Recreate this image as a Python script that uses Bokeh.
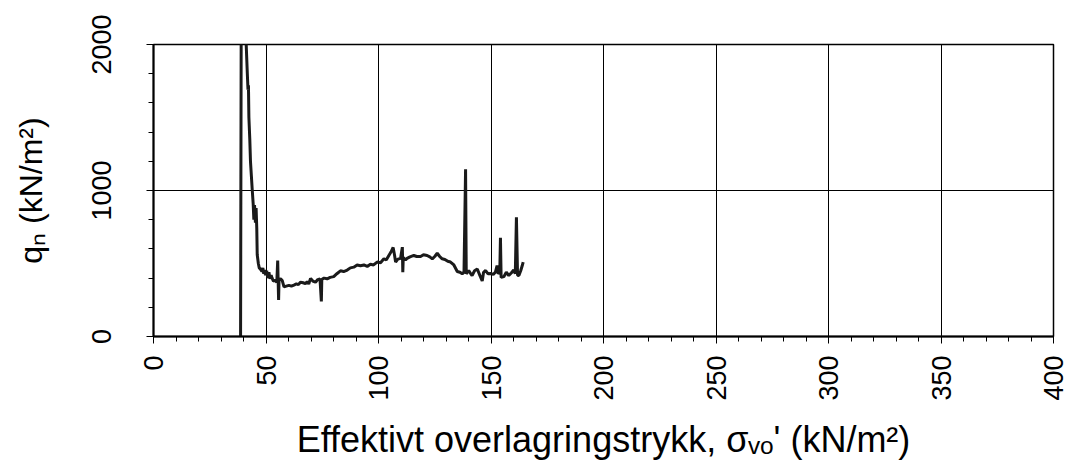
import math
from bokeh.plotting import figure
from bokeh.models import Range1d, FixedTicker
from bokeh.embed import file_html
from bokeh.resources import INLINE

# effective overburden stress (kN/m2) and net cone resistance q_n (kN/m2)
sigma_vo = [38.7, 39.0, 40.8, 41.2, 41.7, 42.0, 42.2, 42.4, 42.8, 43.1, 43.5, 43.9, 44.3, 44.6,
            44.9, 45.3, 45.6, 45.9, 46.1, 46.6, 47.0, 47.6, 48.2, 48.6, 49.0, 49.5, 49.8, 50.3,
            50.8, 51.3, 51.8, 52.3, 52.7, 53.3, 54.2, 54.8, 55.2, 55.4, 55.6, 55.8, 56.5, 57.2,
            58.0, 59.0, 60.2, 61.3, 62.4, 63.5, 64.4, 65.3, 66.5, 67.5, 68.3, 69.0, 69.8, 70.8,
            72.0, 73.0, 74.0, 74.6, 74.8, 75.8, 77.2, 78.5, 80.1, 81.5, 83.1, 84.5, 86.1, 87.5,
            89.0, 90.5, 92.0, 93.5, 95.0, 96.4, 97.8, 99.4, 100.9, 102.4, 103.5, 104.6, 105.6,
            106.5, 107.1, 107.6, 108.6, 109.8, 110.6, 110.8, 111.0, 112.0, 112.7, 114.0, 115.7,
            117.0, 118.7, 120.0, 121.6, 122.8, 123.9, 125.0, 126.1, 127.2, 128.3, 129.5, 130.8,
            132.0, 133.5, 135.0, 136.2, 137.2, 138.0, 138.7, 139.0, 140.1, 141.0, 141.6, 142.7,
            143.9, 145.0, 146.1, 146.7, 147.6, 148.6, 149.8, 151.0, 152.0, 152.7, 153.2, 153.9,
            154.2, 154.5, 155.7, 156.8, 157.9, 159.0, 160.1, 160.8, 161.3, 161.8, 162.4, 163.2,
            163.9, 164.3]
q_n = [0, 2300, 2300, 2000, 1800, 1690, 1720, 1500, 1350, 1200, 1100, 1000, 910, 800,
       900, 780, 880, 740, 560, 500, 470, 460, 445, 470, 430, 455, 420, 450,
       400, 440, 395, 420, 400, 380, 385, 370, 520, 380, 250, 390, 395, 384,
       340, 345, 350, 345, 352, 360, 355, 372, 368, 362, 375, 360, 398, 380,
       372, 390, 395, 240, 390, 400, 395, 405, 410, 430, 450, 445, 455, 470,
       475, 490, 485, 490, 480, 495, 490, 510, 505, 532, 525, 555, 580,
       610, 560, 510, 530, 535, 612, 440, 540, 525, 535, 545, 555,
       548, 548, 560, 555, 545, 532, 548, 570, 548, 532, 528, 515,
       510, 490, 445, 440, 430, 440, 1145, 430, 452, 430, 418, 450,
       462, 420, 380, 440, 452, 430, 432, 425, 442, 486, 430, 440,
       676, 405, 410, 440, 418, 435, 455, 430, 817, 420, 418, 450,
       486, 510]

x_ticks = [0, 50, 100, 150, 200, 250, 300, 350, 400]
y_ticks = [0, 1000, 2000]
x_minor = list(range(0, 401, 10))
y_minor = list(range(0, 2001, 200))

FONT = "Liberation Sans"

p = figure(width=1068, height=469, output_backend="svg", toolbar_location=None,
           x_range=Range1d(0, 400), y_range=Range1d(0, 2000),
           min_border_left=153, min_border_right=15, min_border_top=44, min_border_bottom=133)

p.background_fill_color = "white"
p.border_fill_color = "white"
p.outline_line_color = "black"
p.outline_line_width = 1.5

p.line(sigma_vo, q_n, line_color="#1a1a1a", line_width=3)

for ax, ticks, minor in ((p.xaxis[0], x_ticks, x_minor), (p.yaxis[0], y_ticks, y_minor)):
    ax.ticker = FixedTicker(ticks=ticks, minor_ticks=minor)
    ax.axis_line_color = "black"
    ax.axis_line_width = 2
    ax.major_tick_line_color = "black"
    ax.minor_tick_line_color = "black"
    ax.major_tick_in = 0
    ax.major_tick_out = 7
    ax.minor_tick_in = 0
    ax.minor_tick_out = 5
    ax.major_label_text_font = FONT
    ax.major_label_text_font_size = "27px"
    ax.major_label_text_color = "black"
    ax.axis_label_text_font = FONT
    ax.axis_label_text_font_style = "normal"
    ax.axis_label_text_color = "black"

p.xaxis[0].major_label_orientation = math.pi / 2
p.xaxis[0].major_label_standoff = 12
p.xaxis[0].axis_label = "Effektivt overlagringstrykk, σᵥₒ' (kN/m²)"
p.xaxis[0].axis_label_text_font_size = "36px"
p.xaxis[0].axis_label_standoff = 15
p.yaxis[0].major_label_orientation = "vertical"
p.yaxis[0].major_label_standoff = 36
p.yaxis[0].axis_label = "qₙ (kN/m²)"
p.yaxis[0].axis_label_text_font_size = "32px"
p.yaxis[0].axis_label_standoff = 40

p.xgrid.ticker = FixedTicker(ticks=x_ticks)
p.ygrid.ticker = FixedTicker(ticks=y_ticks)
p.grid.grid_line_color = "black"
p.grid.grid_line_width = 1

open("out.html", "w").write(file_html(p, INLINE))
